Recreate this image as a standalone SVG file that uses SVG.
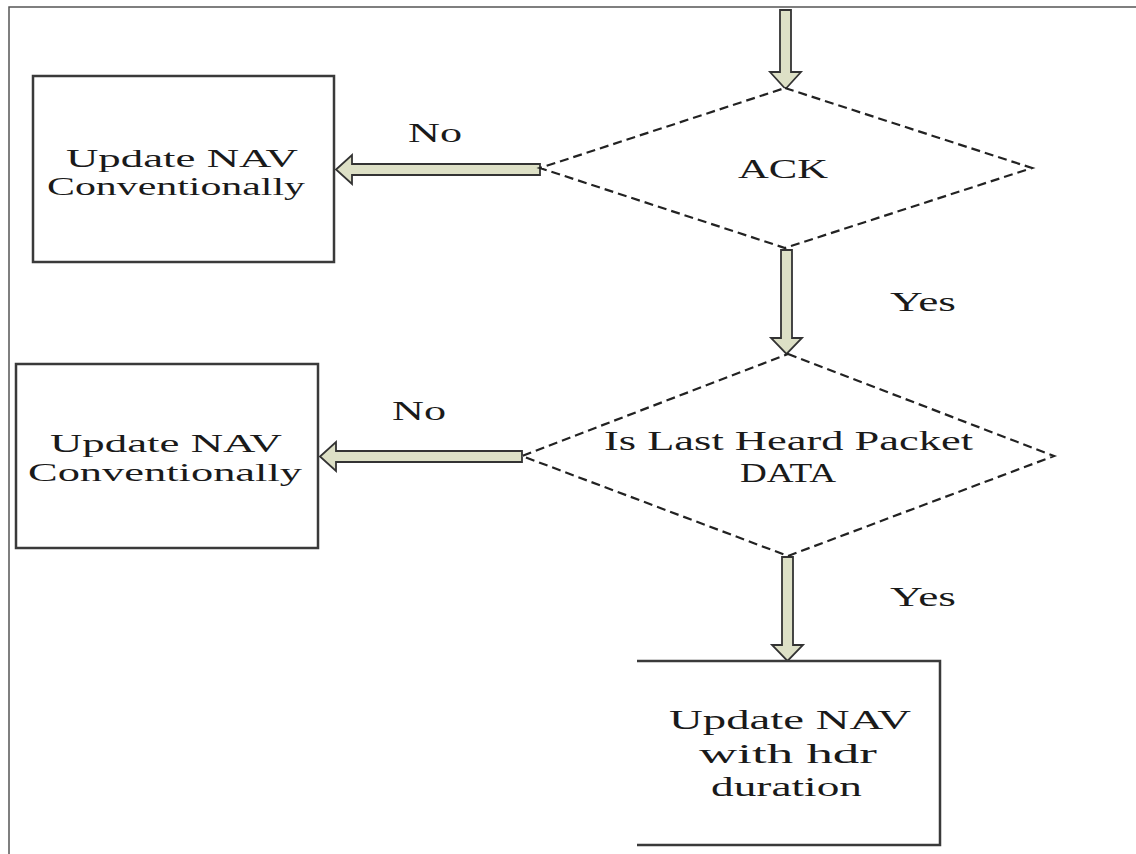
<svg xmlns="http://www.w3.org/2000/svg" width="1136" height="854" viewBox="0 0 1136 854">
<style>
.box{fill:#fff;stroke:#3a3a3a;stroke-width:2.5}
.dia{fill:#fff;stroke:#222;stroke-width:2.2;stroke-dasharray:9 5}
.arr{fill:#dde0c6;stroke:#333;stroke-width:1.8;stroke-linejoin:miter}
.t{font-family:"Liberation Serif","Times New Roman",serif;font-size:28px;fill:#1a1a1a}
.s{font-size:25px}
.frame{stroke:#555;stroke-width:1.5;fill:none}
</style>
<rect width="1136" height="854" fill="#fff"/>
<path class="frame" d="M9,854 V7 H1136"/>
<g id="connectors">
<path class="arr" d="M780,10 H791 V72 H801 L785.5,89 L770,72 H780 Z"/>
<path class="arr" d="M781,250 H792 V338 H802 L786.5,354 L771,338 H781 Z"/>
<path class="arr" d="M782,557 H793 V645 H803 L787.5,661 L772,645 H782 Z"/>
<path class="arr" d="M540,164 V175 H352 V184 L336,169.5 L352,155 V164 Z"/>
<path class="arr" d="M522,451 V462 H336 V471 L320,456.5 L336,442 V451 Z"/>
<text class="t" x="408" y="142" textLength="54" lengthAdjust="spacingAndGlyphs">No</text>
<text class="t" x="392" y="420" textLength="54" lengthAdjust="spacingAndGlyphs">No</text>
<text class="t" x="890" y="311" textLength="66" lengthAdjust="spacingAndGlyphs">Yes</text>
<text class="t" x="890" y="606" textLength="66" lengthAdjust="spacingAndGlyphs">Yes</text>
</g>
<g id="box1">
<rect class="box" x="33" y="76" width="301" height="186"/>
<text class="t s" x="66" y="167" textLength="232" lengthAdjust="spacingAndGlyphs">Update NAV</text>
<text class="t s" x="47" y="195" textLength="258" lengthAdjust="spacingAndGlyphs">Conventionally</text>
</g>
<g id="ack">
<polygon class="dia" points="785,88 1032,168 785,248 540,168"/>
<text class="t" x="738" y="178" textLength="90" lengthAdjust="spacingAndGlyphs">ACK</text>
</g>
<g id="box2">
<rect class="box" x="16" y="364" width="302" height="184"/>
<text class="t s" x="50" y="452" textLength="232" lengthAdjust="spacingAndGlyphs">Update NAV</text>
<text class="t s" x="28" y="481" textLength="274" lengthAdjust="spacingAndGlyphs">Conventionally</text>
</g>
<g id="lastheard">
<polygon class="dia" points="788,354 1054,456 788,556 522,456"/>
<text class="t" x="604" y="450" textLength="369" lengthAdjust="spacingAndGlyphs">Is Last Heard Packet</text>
<text class="t" x="740" y="482" textLength="96" lengthAdjust="spacingAndGlyphs">DATA</text>
</g>
<g id="box3">
<path class="box" d="M637,661 H940 V845 H637"/>
<text class="t" x="669" y="729" textLength="242" lengthAdjust="spacingAndGlyphs">Update NAV</text>
<text class="t" x="699" y="763" textLength="178" lengthAdjust="spacingAndGlyphs">with hdr</text>
<text class="t" x="711" y="796" textLength="151" lengthAdjust="spacingAndGlyphs">duration</text>
</g>
</svg>
